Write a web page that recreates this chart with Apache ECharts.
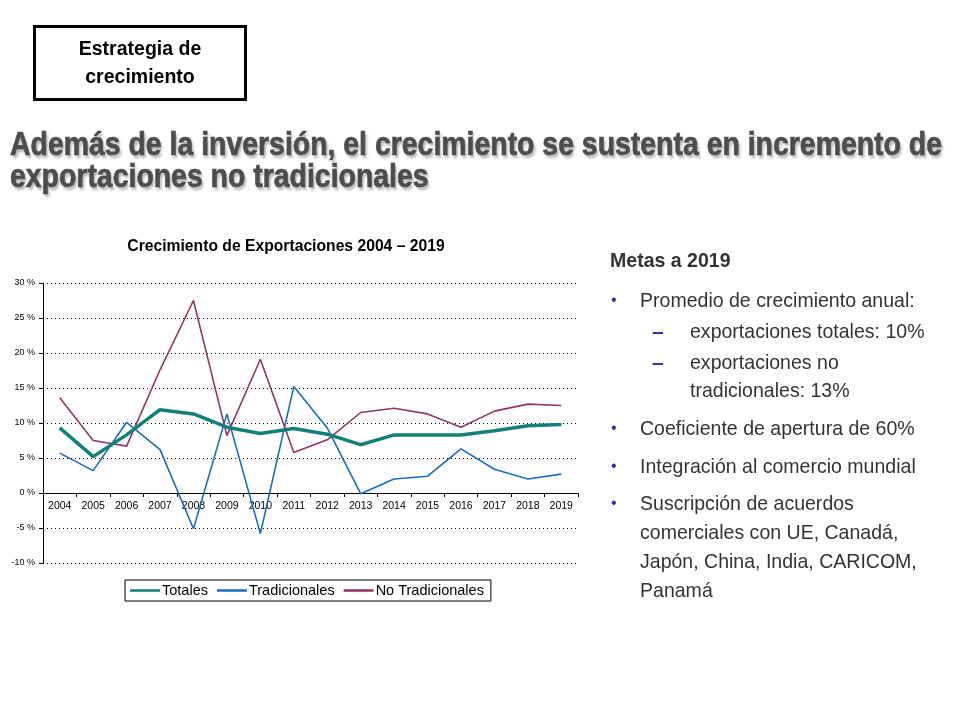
<!DOCTYPE html>
<html>
<head>
<meta charset="utf-8">
<script src="https://cdn.jsdelivr.net/npm/echarts@6/dist/echarts.min.js"></script>
<style>
body { margin: 0; background: #fff; }
#page { position: relative; width: 960px; height: 720px; overflow: hidden; font-family: "Liberation Sans", Arial, sans-serif; }
#container { position: absolute; left: 0; top: 0; width: 960px; height: 720px; }
.box { position: absolute; left: 33px; top: 25px; width: 208px; height: 64px; border: 3px solid #000; text-align: center; font-weight: bold; font-size: 19.5px; line-height: 28px; padding-top: 6px; }
.hl { position: absolute; left: 10px; font-weight: bold; font-size: 33px; line-height: 33px; color: #4d4d4d; -webkit-text-stroke: 0.7px #4d4d4d; text-shadow: 2px 3px 3px #b0b0b0; white-space: nowrap; transform-origin: 0 0; }
.ctitle { position: absolute; left: 0; width: 572px; top: 237px; text-align: center; font-weight: bold; font-size: 15.7px; }
.rl { position: absolute; white-space: nowrap; font-size: 21px; line-height: 24px; color: #333; transform: scaleX(0.93); transform-origin: 0 0; }
.mk { position: absolute; color: #333399; font-size: 16px; line-height: 24px; }
.dash { position: absolute; color: #333399; font-size: 21px; font-weight: bold; line-height: 24px; }
</style>
</head>
<body>
<div id="page">
<div id="container"></div>
<div class="box">Estrategia de<br>crecimiento</div>
<div class="hl" id="hl1" style="top:127px">Además de la inversión, el crecimiento se sustenta en incremento de</div>
<div class="hl" id="hl2" style="top:159px">exportaciones no tradicionales</div>
<div class="ctitle">Crecimiento de Exportaciones 2004 – 2019</div>

<div class="rl" style="left:610px; top:248px; font-weight:bold;">Metas a 2019</div>
<div class="mk" style="left:611px; top:288px;">•</div>
<div class="rl" style="left:640px; top:288px;">Promedio de crecimiento anual:</div>
<div class="dash" style="left:652px; top:319px;">–</div>
<div class="rl" style="left:690px; top:319px;">exportaciones totales: 10%</div>
<div class="dash" style="left:652px; top:350px;">–</div>
<div class="rl" style="left:690px; top:350px;">exportaciones no</div>
<div class="rl" style="left:690px; top:378px;">tradicionales: 13%</div>
<div class="mk" style="left:611px; top:416px;">•</div>
<div class="rl" style="left:640px; top:416px;">Coeficiente de apertura de 60%</div>
<div class="mk" style="left:611px; top:454px;">•</div>
<div class="rl" style="left:640px; top:454px;">Integración al comercio mundial</div>
<div class="mk" style="left:611px; top:491px;">•</div>
<div class="rl" style="left:640px; top:491px;">Suscripción de acuerdos</div>
<div class="rl" style="left:640px; top:520px;">comerciales con UE, Canadá,</div>
<div class="rl" style="left:640px; top:549px;">Japón, China, India, CARICOM,</div>
<div class="rl" style="left:640px; top:578px;">Panamá</div>
</div>
<script>
// headline is set in a narrow face in the original; squeeze to fit
var hl1 = document.getElementById('hl1');
var hl2 = document.getElementById('hl2');
var k = 932 / hl1.getBoundingClientRect().width;
hl1.style.transform = 'scaleX(' + k + ')';
hl2.style.transform = 'scaleX(' + k + ')';

var years = ['2004','2005','2006','2007','2008','2009','2010','2011','2012','2013','2014','2015','2016','2017','2018','2019'];
var totales = [9.3, 5.2, 8.3, 11.9, 11.3, 9.4, 8.5, 9.2, 8.4, 6.9, 8.3, 8.3, 8.3, 8.9, 9.6, 9.8];
var tradicionales = [5.7, 3.2, 10.1, 6.2, -5.1, 11.3, -5.8, 15.2, 9.3, -0.1, 2.0, 2.4, 6.3, 3.4, 2.0, 2.7];
var noTradicionales = [13.6, 7.5, 6.7, 17.6, 27.5, 8.2, 19.1, 5.8, 7.6, 11.5, 12.1, 11.3, 9.4, 11.7, 12.7, 12.5];

var dom = document.getElementById('container');
var myChart = echarts.init(dom, null, { renderer: 'canvas' });

var option = {
  animation: false,
  textStyle: { fontFamily: 'Liberation Sans, Arial, sans-serif' },
  grid: { left: 43, top: 283, width: 535, height: 280 },
  legend: {
    left: 125, top: 580,
    borderColor: '#000', borderWidth: 1, padding: [3, 7, 3, 5],
    itemGap: 9, itemWidth: 30, itemHeight: 2.5,
    icon: 'rect',
    textStyle: { fontSize: 14.5, color: '#000', padding: [0, 0, 0, -3] },
    data: ['Totales', 'Tradicionales', 'No Tradicionales']
  },
  xAxis: {
    type: 'category',
    data: years,
    axisLine: { onZero: true, lineStyle: { color: '#000', width: 1 } },
    axisTick: { show: true, length: 4, lineStyle: { color: '#000' } },
    axisLabel: { fontSize: 10.5, color: '#000', margin: -62 }
  },
  yAxis: {
    type: 'value',
    min: -10, max: 30, interval: 5,
    axisLine: { show: true, lineStyle: { color: '#000', width: 1 } },
    axisTick: { show: true, length: 4, lineStyle: { color: '#000' } },
    axisLabel: { fontSize: 9, color: '#000', margin: 8, formatter: '{value} %' },
    splitLine: { lineStyle: { color: '#000', type: [1, 3], width: 1.2 } }
  },
  series: [
    { name: 'Totales', type: 'line', data: totales, symbol: 'none', color: '#138078', lineStyle: { width: 3.5, color: '#138078' }, z: 3 },
    { name: 'Tradicionales', type: 'line', data: tradicionales, symbol: 'none', color: '#1A6BBF', lineStyle: { width: 1.6, color: '#1A6BBF' }, z: 2 },
    { name: 'No Tradicionales', type: 'line', data: noTradicionales, symbol: 'none', color: '#8E3766', lineStyle: { width: 1.6, color: '#8E3766' }, z: 2 }
  ]
};

myChart.setOption(option);
window.addEventListener('resize', myChart.resize);
</script>
</body>
</html>
